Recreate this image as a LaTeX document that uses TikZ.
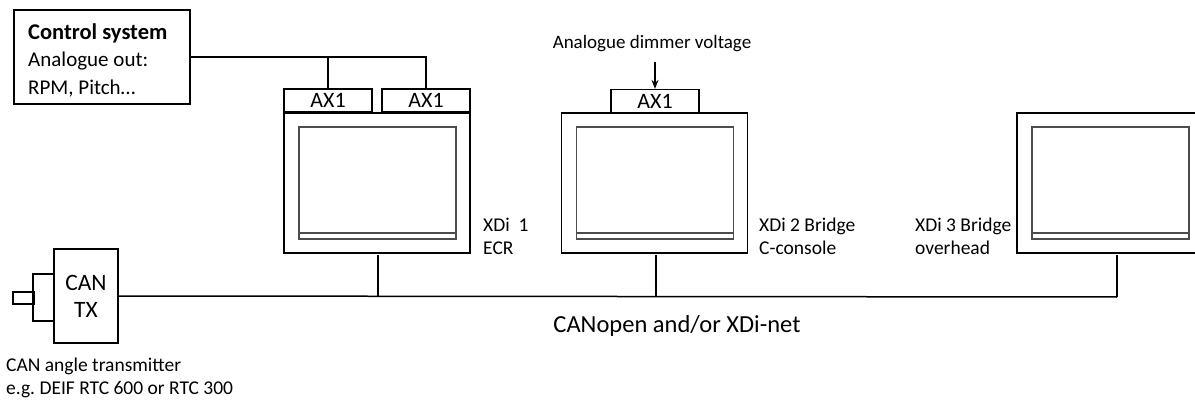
\documentclass[tikz,border=0pt]{standalone}
\usepackage{fontspec}
\setmainfont{Carlito}
\usetikzlibrary{arrows.meta}
\tikzset{
  xdi box/.style={draw=black,line width=1.3pt,minimum width=186pt,minimum height=140pt,inner sep=0pt},
  xdi screen/.style={draw=black!70,line width=1.1pt},
  ax box/.style={draw=black,line width=1.2pt,minimum width=88pt,minimum height=23pt,inner sep=0pt,font=\fontsize{22}{22}\selectfont},
  xdi wire/.style={black,line width=1.5pt},
  xdi label/.style={align=left,anchor=west,inner sep=0pt,font=\fontsize{19.5}{23}\selectfont}
}
\newcommand{\xdiscreenat}[2]{%
  \begin{scope}[shift={(#1)}]
    \node[xdi box] (#2) at (0,0) {};
    \draw[xdi screen] (-78,-56) rectangle (79,56);
    \draw[xdi screen] (-78,50) -- (79,50);
  \end{scope}%
}

\begin{document}
\begin{tikzpicture}[x=1pt,y=-1pt]
  \clip (0,0) rectangle (1195,401);
  \fill[white] (0,0) rectangle (1195,401);
  % control system
  \node[draw,line width=1.2pt,minimum width=176pt,minimum height=94pt,inner sep=0pt] (ctrl) at (102,57) {};
  \node[xdi label,font=\fontsize{21}{27.5}\selectfont] (ctrltxt) at (28,60)
    {{\fontsize{22.5}{27.5}\selectfont\textbf{Control system}}\\Analogue out:\\RPM, Pitch\dots};
  % displays
  \xdiscreenat{377,183}{d1}
  \xdiscreenat{654.5,183}{d2}
  \xdiscreenat{1110,183}{d3}
  \node[ax box] (ax1a) at (328,100.5) {AX1};
  \node[ax box] (ax1b) at (426,100.5) {AX1};
  \node[ax box] (ax2) at (655,101) {AX1};
  \node[xdi label] (l1) at (483,236) {XDi\ \ 1\\ECR};
  \node[xdi label] (l2) at (759,236) {XDi 2 Bridge\\C-console};
  \node[xdi label] (l3) at (915,236) {XDi 3 Bridge\\overhead};
  \node[font=\fontsize{19}{20}\selectfont,inner sep=0pt] (dim) at (652,44) {Analogue dimmer voltage};
  % CAN transmitter
  \node[draw,line width=1.2pt,minimum width=64pt,minimum height=94pt,inner sep=0pt,
    align=center,font=\fontsize{23.5}{27}\selectfont] (cantx) at (86,296) {CAN\\TX};
  \draw[line width=1.2pt] (cantx.west |- 0,274) -| (33,321) -- (cantx.west |- 0,321);
  \node[draw,line width=1.2pt,minimum width=21pt,minimum height=12pt,inner sep=0pt] (plug) at (23.5,298) {};
  \node[xdi label] (cantxt) at (6,377.5) {CAN angle transmitter\\e.g.\ DEIF RTC 600 or RTC 300};
  % bus
  \coordinate (busend) at (1117,297);
  \draw[xdi wire] (cantx.east) -- (busend);
  \draw[xdi wire] (378,255) -- (378,297);
  \draw[xdi wire] (656,255) -- (656,297);
  \draw[xdi wire] (1117,255) -- (busend);
  \node[font=\fontsize{24.5}{26}\selectfont,inner sep=0pt] (bus) at (677,326) {CANopen and/or XDi-net};
  % analogue lines
  \draw[xdi wire] (ctrl.east) -| (ax1b.north);
  \draw[xdi wire] (ax1a.north) -- (ax1a.north |- ctrl.east);
  \draw[xdi wire,-{Stealth[length=9pt,width=7pt]}] (655,62) -- (ax2.north);
\end{tikzpicture}
\end{document}
